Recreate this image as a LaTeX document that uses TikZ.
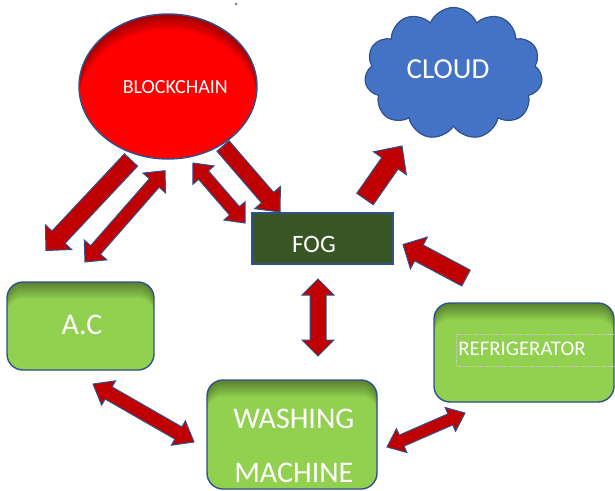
\documentclass[tikz,border=0pt]{standalone}
\usepackage{fontspec}
\setmainfont{Carlito}
\usetikzlibrary{calc,shapes.symbols,shapes.geometric}

\definecolor{edgeblue}{HTML}{2F528F}
\definecolor{arrowred}{HTML}{C00000}
\definecolor{leafgreen}{HTML}{92D050}
\definecolor{foggreen}{HTML}{375623}
\definecolor{cloudblue}{HTML}{4472C4}
\definecolor{chainred}{HTML}{FF0000}

\tikzset{
  % soft inner shadow along the top edge of a rounded box
  device/.style={draw=edgeblue, line width=1.4pt, fill=leafgreen,
    rounded corners=16pt, inner sep=0pt,
    path picture={
      \foreach \d in {2,4,...,16} {
        \fill[black, opacity=0.05, even odd rule, rounded corners=16pt]
          (path picture bounding box.south west) rectangle (path picture bounding box.north east)
          ([yshift=-\d pt]path picture bounding box.south west)
            rectangle ([yshift=-\d pt]path picture bounding box.north east);
      }}},
  caption/.style={text=white, inner sep=0pt},
  blockarrow/.style={draw=edgeblue, fill=arrowred, line width=1pt, line join=miter},
}

% block arrow with one head: from #1 to #2, shaft half-width #3,
% head half-width #4, head length #5
\newcommand{\onewayarrow}[5]{%
  \draw[blockarrow] let \p1=($(#2)-(#1)$), \n1={atan2(\y1,\x1)},
      \n2={veclen(\x1,\y1)} in
    ($(#1)+(\n1+90:#3)$)
    -- ($(#1)+(\n1:\n2-#5)+(\n1+90:#3)$)
    -- ($(#1)+(\n1:\n2-#5)+(\n1+90:#4)$)
    -- (#2)
    -- ($(#1)+(\n1:\n2-#5)+(\n1-90:#4)$)
    -- ($(#1)+(\n1:\n2-#5)+(\n1-90:#3)$)
    -- ($(#1)+(\n1-90:#3)$) -- cycle;}

% block arrow with heads at both ends
\newcommand{\twowayarrow}[5]{%
  \draw[blockarrow] let \p1=($(#2)-(#1)$), \n1={atan2(\y1,\x1)},
      \n2={veclen(\x1,\y1)} in
    (#1)
    -- ($(#1)+(\n1:#5)+(\n1+90:#4)$)
    -- ($(#1)+(\n1:#5)+(\n1+90:#3)$)
    -- ($(#1)+(\n1:\n2-#5)+(\n1+90:#3)$)
    -- ($(#1)+(\n1:\n2-#5)+(\n1+90:#4)$)
    -- (#2)
    -- ($(#1)+(\n1:\n2-#5)+(\n1-90:#4)$)
    -- ($(#1)+(\n1:\n2-#5)+(\n1-90:#3)$)
    -- ($(#1)+(\n1:#5)+(\n1-90:#3)$)
    -- ($(#1)+(\n1:#5)+(\n1-90:#4)$) -- cycle;}

\begin{document}
\begin{tikzpicture}[x=1pt, y=-1pt]
\useasboundingbox (0,0) rectangle (615,490);

% small mark at the top
\fill[gray] (236,4) circle (1.5pt);

% blockchain, with a darker rim along its upper edge
\node[ellipse, draw=edgeblue, line width=1.4pt, fill=chainred,
  minimum width=178pt, minimum height=145pt, inner sep=0pt,
  path picture={
    \foreach \d in {2,4,...,16} {
      \fill[black, opacity=0.05, even odd rule]
        (path picture bounding box.center) ellipse [x radius=89pt, y radius=72.5pt]
        ([yshift=-\d pt]path picture bounding box.center) ellipse [x radius=89pt, y radius=72.5pt];
    }}]
  (chain) at (168,86.5) {};
\node[caption, font=\fontsize{20}{24}\selectfont] (chaintext) at (175.3,86.8) {BLOCKCHAIN};

% cloud
\node[cloud, cloud puffs=11, cloud puff arc=135, aspect=1.35,
  draw=edgeblue, line width=1.2pt, fill=cloudblue,
  minimum width=178pt, minimum height=132pt, inner sep=0pt]
  (cloud) at (453.5,73.5) {};
\node[caption, font=\fontsize{29}{34}\selectfont] (cloudtext) at (448,69) {CLOUD};

% fog layer
\node[draw=edgeblue, line width=1.2pt, fill=foggreen,
  minimum width=141pt, minimum height=51pt, inner sep=0pt]
  (fog) at (322.5,238.5) {};
\node[caption, font=\fontsize{25}{30}\selectfont] (fogtext) at (314,244.7) {FOG};

% devices
\node[device, minimum width=147pt, minimum height=88pt] (ac) at (80.5,326) {};
\node[caption, font=\fontsize{30}{36}\selectfont] (actext) at (82,325.3) {A.C};

\node[device, minimum width=170pt, minimum height=109pt] (wash) at (292,434.5) {};
\node[caption, font=\fontsize{30}{36}\selectfont] (washtext1) at (293.8,419) {WASHING};
\node[caption, font=\fontsize{30}{36}\selectfont] (washtext2) at (293.8,472.8) {MACHINE};

\node[device, minimum width=180pt, minimum height=99pt] (fridge) at (524,352.5) {};
\draw[densely dotted, color=black!20, line width=0.8pt]
  (614,334) -- (456,334) -- (456,366) -- (614,366);
\node[caption, font=\fontsize{20.8}{25}\selectfont] (fridgetext) at (522,349) {REFRIGERATOR};

% arrow end points
\coordinate (c1a) at (131,160);   \coordinate (c1b) at (46,250.5);
\coordinate (c2a) at (85,262);    \coordinate (c2b) at (165,170.7);
\coordinate (c3a) at (193,163);   \coordinate (c3b) at (245,223);
\coordinate (c4a) at (223,146);   \coordinate (c4b) at (280,212);
\coordinate (c5a) at (365,199);   \coordinate (c5b) at (402,146);
\coordinate (c6a) at (466,278);   \coordinate (c6b) at (403,244.5);
\coordinate (c7a) at (318,279);   \coordinate (c7b) at (318,356);
\coordinate (c8a) at (93,384);    \coordinate (c8b) at (194,442);
\coordinate (c9a) at (387,447);   \coordinate (c9b) at (465,413);

% connectors
\onewayarrow{c1a}{c1b}{9pt}{18pt}{18pt}
\twowayarrow{c2a}{c2b}{6.5pt}{15pt}{16pt}
\twowayarrow{c3a}{c3b}{6.5pt}{14pt}{16pt}
\onewayarrow{c4a}{c4b}{8pt}{17pt}{19pt}
\onewayarrow{c5a}{c5b}{10pt}{20pt}{21pt}
\onewayarrow{c6a}{c6b}{9pt}{18pt}{18pt}
\twowayarrow{c7a}{c7b}{8pt}{16pt}{16pt}
\twowayarrow{c8a}{c8b}{7pt}{14pt}{18pt}
\twowayarrow{c9a}{c9b}{6pt}{13pt}{16pt}
\end{tikzpicture}
\end{document}
